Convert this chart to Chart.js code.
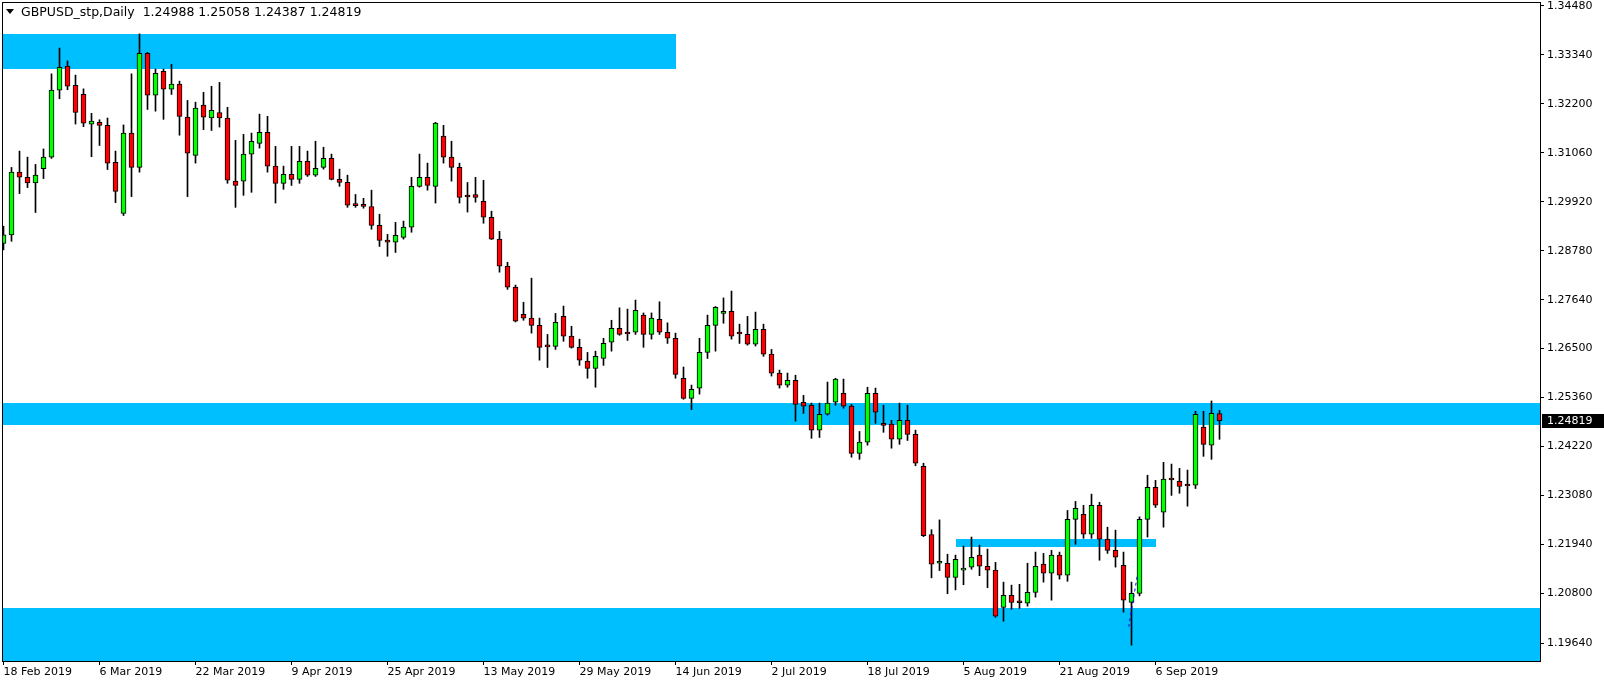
<!DOCTYPE html>
<html>
<head>
<meta charset="utf-8">
<script src="https://cdn.jsdelivr.net/npm/chart.js@4.4.0/dist/chart.umd.min.js"></script>
<style>
html, body { margin: 0; padding: 0; background: #fff; }
#wrap { width: 1604px; height: 685px; }
</style>
</head>
<body>
<div id="wrap"><canvas id="chart" width="1604" height="685"></canvas></div>
<script>
/////////////////////////////// DATA ///////////////////////////////
// daily bars, index 0 = 18 Feb 2019, one bar per weekday up to 18 Sep 2019
const opens = [
  1.2895, 1.2915, 1.3061, 1.3049, 1.3036, 1.3069, 1.3096, 1.3252, 1.3308, 1.3263,
  1.3242, 1.3173, 1.3177, 1.3170, 1.3084, 1.2965, 1.3152, 1.3072, 1.3338, 1.3240,
  1.3296, 1.3254, 1.3266, 1.3189, 1.3100, 1.3217, 1.3187, 1.3200, 1.3187, 1.3040,
  1.3040, 1.3103, 1.3128, 1.3154, 1.3075, 1.3035, 1.3056, 1.3044, 1.3086, 1.3054,
  1.3072, 1.3093, 1.3044, 1.3037, 1.2984, 1.2986, 1.2981, 1.2937, 1.2902, 1.2898,
  1.2909, 1.2933, 1.3028, 1.3049, 1.3028, 1.3145, 1.3096, 1.3072, 1.3004, 1.3009,
  1.2993, 1.2956, 1.2905, 1.2842, 1.2793, 1.2730, 1.2721, 1.2704, 1.2655, 1.2655,
  1.2725, 1.2679, 1.2653, 1.2621, 1.2604, 1.2627, 1.2665, 1.2697, 1.2685, 1.2688,
  1.2728, 1.2683, 1.2718, 1.2688, 1.2674, 1.2581, 1.2534, 1.2558, 1.2641, 1.2704,
  1.2732, 1.2737, 1.2685, 1.2683, 1.2660, 1.2695, 1.2637, 1.2593, 1.2565, 1.2576,
  1.2525, 1.2518, 1.2460, 1.2497, 1.2525, 1.2546, 1.2516, 1.2406, 1.2432, 1.2546,
  1.2476, 1.2474, 1.2439, 1.2483, 1.2450, 1.2376, 1.2217, 1.2150, 1.2150, 1.2117,
  1.2134, 1.2141, 1.2169, 1.2143, 1.2134, 1.2047, 1.2075, 1.2059, 1.2057, 1.2082,
  1.2148, 1.2127, 1.2169, 1.2122, 1.2252, 1.2264, 1.2218, 1.2285, 1.2206, 1.2180,
  1.2145, 1.2059, 1.2080, 1.2252, 1.2327, 1.2269, 1.2345, 1.2341, 1.2331, 1.2332,
  1.2467, 1.2425, 1.24988
];
const highs = [
  1.2935, 1.3072, 1.3110, 1.3096, 1.3079, 1.3115, 1.3290, 1.3350, 1.3320, 1.3287,
  1.3255, 1.3198, 1.3183, 1.3187, 1.3110, 1.3171, 1.3290, 1.3383, 1.3340, 1.3301,
  1.3301, 1.3312, 1.3273, 1.3228, 1.3224, 1.3247, 1.3261, 1.3270, 1.3212, 1.3135,
  1.3149, 1.3152, 1.3196, 1.3191, 1.3121, 1.3075, 1.3121, 1.3121, 1.3110, 1.3133,
  1.3119, 1.3103, 1.3068, 1.3054, 1.3009, 1.3000, 1.3019, 1.2963, 1.2916, 1.2944,
  1.2947, 1.3049, 1.3103, 1.3082, 1.3177, 1.3170, 1.3133, 1.3082, 1.3037, 1.3049,
  1.3042, 1.2970, 1.2923, 1.2851, 1.2798, 1.2758, 1.2814, 1.2721, 1.2683, 1.2732,
  1.2749, 1.2702, 1.2672, 1.2641, 1.2644, 1.2674, 1.2716, 1.2745, 1.2742, 1.2763,
  1.2733, 1.2733, 1.2759, 1.2710, 1.2686, 1.2607, 1.2565, 1.2674, 1.2728, 1.2748,
  1.2768, 1.2784, 1.2707, 1.2725, 1.2735, 1.2707, 1.2648, 1.2600, 1.2593, 1.2588,
  1.2541, 1.2523, 1.2523, 1.2572, 1.2581, 1.2579, 1.2520, 1.2457, 1.2560, 1.2558,
  1.2518, 1.2483, 1.2523, 1.2518, 1.2460, 1.2383, 1.2228, 1.2251, 1.2171, 1.2169,
  1.2190, 1.2211, 1.2192, 1.2183, 1.2152, 1.2106, 1.2099, 1.2101, 1.2150, 1.2176,
  1.2173, 1.2180, 1.2176, 1.2273, 1.2294, 1.2285, 1.2311, 1.2292, 1.2234, 1.2227,
  1.2176, 1.2106, 1.2258, 1.2355, 1.2343, 1.2385, 1.2381, 1.2371, 1.2367, 1.2504,
  1.2504, 1.2528, 1.25058
];
const lows = [
  1.2880, 1.2900, 1.3011, 1.3025, 1.2967, 1.3046, 1.3093, 1.3232, 1.3253, 1.3173,
  1.3167, 1.3097, 1.3123, 1.3067, 1.2990, 1.2960, 1.3004, 1.3061, 1.3207, 1.3203,
  1.3184, 1.3242, 1.3147, 1.3004, 1.3082, 1.3160, 1.3158, 1.3166, 1.3035, 1.2979,
  1.3007, 1.3014, 1.3117, 1.3061, 1.2989, 1.3021, 1.3030, 1.3035, 1.3051, 1.3051,
  1.3068, 1.3043, 1.3028, 1.2979, 1.2979, 1.2977, 1.2928, 1.2888, 1.2865, 1.2874,
  1.2905, 1.2921, 1.3026, 1.3019, 1.2989, 1.3082, 1.3040, 1.2989, 1.2968, 1.2991,
  1.2942, 1.2904, 1.2828, 1.2788, 1.2712, 1.2716, 1.2686, 1.2623, 1.2606, 1.2648,
  1.2667, 1.2651, 1.2611, 1.2581, 1.2560, 1.2611, 1.2644, 1.2681, 1.2669, 1.2683,
  1.2653, 1.2672, 1.2683, 1.2662, 1.2581, 1.2532, 1.2508, 1.2544, 1.2627, 1.2644,
  1.2709, 1.2672, 1.2662, 1.2658, 1.2656, 1.2632, 1.2586, 1.2558, 1.2560, 1.2481,
  1.2499, 1.2441, 1.2443, 1.2495, 1.2518, 1.2511, 1.2397, 1.2392, 1.2425, 1.2476,
  1.2455, 1.2418, 1.2427, 1.2436, 1.2377, 1.2212, 1.2116, 1.2133, 1.2079, 1.2088,
  1.2100, 1.2136, 1.2121, 1.2093, 1.2024, 1.2015, 1.2043, 1.2045, 1.2050, 1.2071,
  1.2106, 1.2064, 1.2113, 1.2108, 1.2194, 1.2208, 1.2208, 1.2157, 1.2173, 1.2141,
  1.2036, 1.1959, 1.2074, 1.2211, 1.2280, 1.2234, 1.2308, 1.2313, 1.2283, 1.2324,
  1.2399, 1.2392, 1.24387
];
const closes = [
  1.2915, 1.3061, 1.3049, 1.3036, 1.3054, 1.3096, 1.3252, 1.3305, 1.3261, 1.3200,
  1.3175, 1.3180, 1.3170, 1.3082, 1.3016, 1.3152, 1.3072, 1.3338, 1.3240, 1.3291,
  1.3254, 1.3266, 1.3191, 1.3105, 1.3210, 1.3189, 1.3205, 1.3187, 1.3042, 1.3030,
  1.3103, 1.3133, 1.3154, 1.3075, 1.3035, 1.3056, 1.3044, 1.3086, 1.3054, 1.3070,
  1.3093, 1.3044, 1.3037, 1.2984, 1.2983, 1.2981, 1.2937, 1.2902, 1.2898, 1.2914,
  1.2933, 1.3028, 1.3049, 1.3030, 1.3175, 1.3096, 1.3072, 1.3002, 1.3003, 1.3002,
  1.2956, 1.2905, 1.2842, 1.2793, 1.2714, 1.2721, 1.2704, 1.2653, 1.2654, 1.2711,
  1.2679, 1.2653, 1.2623, 1.2604, 1.2632, 1.2662, 1.2697, 1.2683, 1.2684, 1.2739,
  1.2683, 1.2721, 1.2688, 1.2674, 1.2590, 1.2534, 1.2555, 1.2641, 1.2704, 1.2746,
  1.2737, 1.2679, 1.2684, 1.2660, 1.2695, 1.2637, 1.2593, 1.2565, 1.2576, 1.2520,
  1.2516, 1.2460, 1.2497, 1.2523, 1.2579, 1.2516, 1.2406, 1.2432, 1.2546, 1.2502,
  1.2471, 1.2439, 1.2483, 1.2450, 1.2383, 1.2214, 1.2148, 1.2151, 1.2117, 1.2159,
  1.2138, 1.2164, 1.2143, 1.2134, 1.2027, 1.2075, 1.2059, 1.2058, 1.2082, 1.2143,
  1.2127, 1.2169, 1.2122, 1.2252, 1.2278, 1.2218, 1.2285, 1.2206, 1.2180, 1.2164,
  1.2064, 1.2080, 1.2252, 1.2327, 1.2285, 1.2346, 1.2344, 1.2329, 1.2330, 1.2497,
  1.2427, 1.2499, 1.24819
];

// bottom axis: bar index of each date label
const tickIndex = [0, 12, 24, 36, 48, 60, 72, 84, 96, 108, 120, 132, 144];
const tickDates = ['18 Feb 2019', '6 Mar 2019', '22 Mar 2019', '9 Apr 2019', '25 Apr 2019',
  '13 May 2019', '29 May 2019', '14 Jun 2019', '2 Jul 2019', '18 Jul 2019',
  '5 Aug 2019', '21 Aug 2019', '6 Sep 2019'];
// right axis labels
const priceLabels = ['1.34480', '1.33340', '1.32200', '1.31060', '1.29920', '1.28780', '1.27640',
  '1.26500', '1.25360', '1.24220', '1.23080', '1.21940', '1.20800', '1.19640'];

// supply / demand rectangles (bar index from-to, price top-bottom)
const zoneFrom = [-2, -2, 119, -2];
const zoneTo = [84, 200, 144, 200];
const zoneTop = [1.33827, 1.25228, 1.22073, 1.20463];
const zoneBottom = [1.33004, 1.24715, 1.21870, 1.18000];

// dashed trend line drawn near the September low
const trendX = [141.7, 140.66];
const trendY = [1.21187, 1.20023];

const lastPrice = 1.24819;
const headerText = 'GBPUSD_stp,Daily  1.24988 1.25058 1.24387 1.24819';

/////////////////////////////// STYLE ///////////////////////////////
const c_bull = '#00FF00';
const c_bear = '#FF0000';
const c_zone = '#00BFFF';
const FONT = '11px "DejaVu Sans"';
const HEADER_FONT = '12.5px "DejaVu Sans"';

/////////////////////////////// PLUGINS ///////////////////////////////
const zonesPlugin = {
  id: 'zones',
  beforeDatasetsDraw(chart) {
    const {ctx, chartArea: a, scales: {x, y}} = chart;
    ctx.save();
    ctx.beginPath();
    ctx.rect(a.left, a.top, a.right - a.left, a.bottom - a.top);
    ctx.clip();
    ctx.fillStyle = c_zone;
    for (let k = 0; k < zoneFrom.length; k++) {
      const x0 = Math.round(x.getPixelForValue(zoneFrom[k]));
      const x1 = Math.round(x.getPixelForValue(zoneTo[k]));
      const y0 = Math.round(y.getPixelForValue(zoneTop[k]));
      const y1 = Math.round(y.getPixelForValue(zoneBottom[k]));
      ctx.fillRect(x0, y0, x1 - x0, y1 - y0);
    }
    ctx.restore();
  }
};

const framePlugin = {
  id: 'frame',
  afterDraw(chart) {
    const {ctx, chartArea: a, scales: {y}} = chart;
    ctx.save();
    // plot border
    ctx.strokeStyle = '#000';
    ctx.lineWidth = 1;
    ctx.strokeRect(a.left + 0.5, a.top + 0.5, a.right - a.left, a.bottom - a.top);

    // header
    ctx.fillStyle = '#000';
    ctx.beginPath();
    ctx.moveTo(6, 9);
    ctx.lineTo(14, 9);
    ctx.lineTo(10, 14);
    ctx.closePath();
    ctx.fill();
    ctx.font = HEADER_FONT;
    ctx.textBaseline = 'middle';
    ctx.textAlign = 'left';
    ctx.fillText(headerText, 21, 12.5);

    // current price box
    const py = Math.round(y.getPixelForValue(lastPrice));
    ctx.fillStyle = '#000';
    ctx.fillRect(a.right + 2, py - 7, 70, 14);
    ctx.font = FONT;
    ctx.fillStyle = '#fff';
    ctx.fillText(lastPrice.toFixed(5), a.right + 7, py + 0.5);
    ctx.restore();
  }
};

/////////////////////////////// CHART ///////////////////////////////
const bodies = opens.map((o, i) => ({x: i, y: [o, closes[i]]}));
const wicks = opens.map((o, i) => ({x: i, y: [lows[i], highs[i]]}));

const ctx = document.getElementById('chart').getContext('2d');
const chart = new Chart(ctx, {
  type: 'bar',
  data: {
    datasets: [
      {
        label: 'body',
        data: bodies,
        backgroundColor: opens.map((o, i) => closes[i] >= o ? c_bull : c_bear),
        borderColor: '#000',
        borderWidth: 1,
        borderSkipped: false,
        barThickness: 5,
        minBarLength: 2,
        grouped: false,
        order: 1,
      },
      {
        label: 'wick',
        data: wicks,
        backgroundColor: '#000',
        borderWidth: 0,
        barThickness: 1,
        grouped: false,
        order: 2,
      },
      {
        type: 'line',
        label: 'trend',
        data: trendX.map((v, i) => ({x: v, y: trendY[i]})),
        borderColor: '#0000FF',
        borderWidth: 1,
        borderDash: [3, 3],
        pointRadius: 0,
        fill: false,
        order: 0,
      },
    ],
  },
  options: {
    responsive: false,
    animation: false,
    events: [],
    layout: { padding: { left: 2, top: 2, right: 0, bottom: 0 } },
    plugins: { legend: { display: false }, tooltip: { enabled: false } },
    scales: {
      x: {
        type: 'linear',
        min: -0.1875,
        max: 192.0625,
        offset: false,
        bounds: 'data',
        grid: { offset: false, drawOnChartArea: false, drawTicks: true, tickLength: 4, color: '#000' },
        border: { display: true, color: '#000' },
        afterBuildTicks: s => { s.ticks = tickIndex.map(v => ({value: v})); },
        afterFit: s => { s.height = 24; s.paddingLeft = 0; s.paddingRight = 0; },
        ticks: {
          autoSkip: false,
          maxRotation: 0,
          align: 'start',
          padding: 1,
          color: '#000',
          font: { family: 'DejaVu Sans', size: 11 },
          callback: (v, i) => tickDates[i],
        },
      },
      y: {
        type: 'linear',
        position: 'right',
        min: 1.19223,
        max: 1.34573,
        beginAtZero: false,
        bounds: 'data',
        grid: { drawOnChartArea: false, drawTicks: true, tickLength: 4, color: '#000' },
        border: { display: true, color: '#000' },
        afterBuildTicks: s => { s.ticks = priceLabels.map(v => ({value: parseFloat(v)})); },
        afterFit: s => { s.width = 64; s.paddingTop = 0; s.paddingBottom = 0; },
        ticks: {
          padding: 3,
          color: '#000',
          font: { family: 'DejaVu Sans', size: 11 },
          callback: (v, i) => priceLabels[i],
        },
      },
    },
  },
  plugins: [zonesPlugin, framePlugin],
});
</script>
</body>
</html>
